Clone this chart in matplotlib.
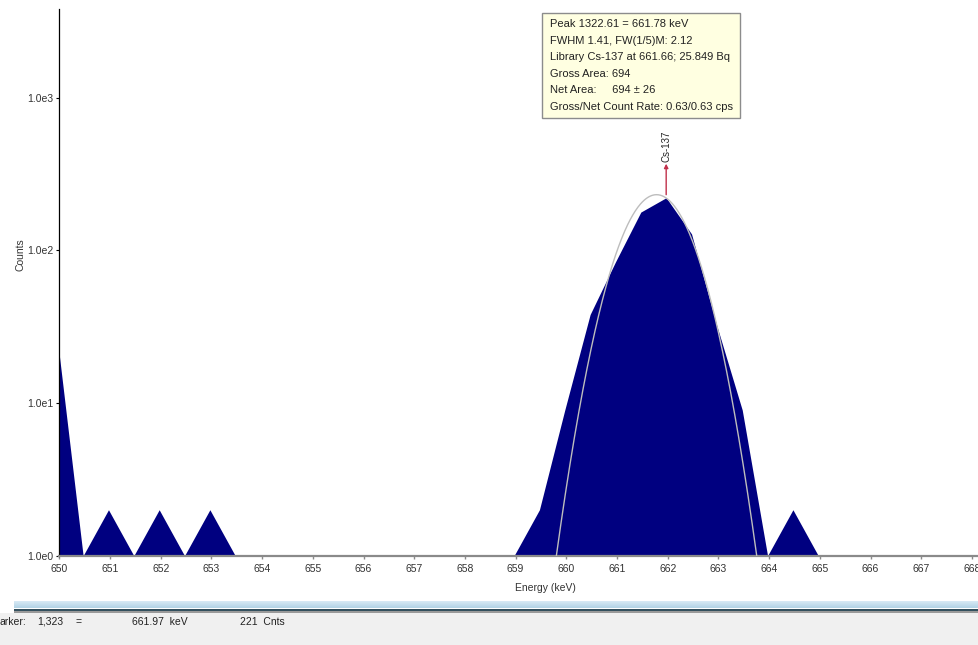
import numpy as np
import matplotlib
matplotlib.use("Agg")
import matplotlib.pyplot as plt
from matplotlib.patches import Rectangle
from matplotlib.ticker import NullLocator
from matplotlib.transforms import offset_copy

plt.rcParams['font.family'] = ['Liberation Sans', 'DejaVu Sans']

# ---------------- data ----------------
energies = [649.97, 650.47, 650.97, 651.47, 651.97, 652.47, 652.97, 653.47,
            653.97, 654.47, 654.97, 655.47, 655.97, 656.47, 656.97, 657.47,
            657.97, 658.47, 658.97, 659.47, 659.97, 660.47, 660.97, 661.47,
            661.97, 662.47, 662.97, 663.47, 663.97, 664.47, 664.97, 665.47,
            665.97, 666.47, 666.97, 667.47, 667.97, 668.47]
counts = [25, 0, 2, 0, 2, 0, 2, 0,
          0, 0, 0, 0, 0, 0, 0, 0,
          0, 0, 0, 2, 9, 38, 84, 178,
          221, 128, 32, 9, 0, 2, 0, 0,
          0, 0, 0, 0, 0, 0]

x_ticks = list(range(650, 669))
y_ticks = [1, 10, 100, 1000]
y_tick_labels = ['1.0e0', '1.0e1', '1.0e2', '1.0e3']

# peak fit parameters (from the info box)
peak_centroid = 661.78
peak_fwhm = 1.41
peak_net_area = 694
kev_per_channel = 0.5003

marker_energy = 661.97
marker_counts = 221
marker_channel = '1,323'
library_label = 'Cs-137'

info_lines = ['Peak 1322.61 = 661.78 keV',
              'FWHM 1.41, FW(1/5)M: 2.12',
              'Library Cs-137 at 661.66; 25.849 Bq',
              'Gross Area: 694',
              'Net Area:     694 \u00b1 26',
              'Gross/Net Count Rate: 0.63/0.63 cps']

# ---------------- figure ----------------
W, H = 979, 645
fig = plt.figure(figsize=(W / 100, H / 100), dpi=100)
fig.patch.set_facecolor('white')

x0_px, base_px, top_px = 59.3, 555.7, 9.0
px_per_kev, px_per_dec = 50.7, 152.7
ax = fig.add_axes([x0_px / W, (H - base_px) / H, (W - x0_px) / W, (base_px - top_px) / H])
ax.set_yscale('log')
ax.set_xlim(650, 650 + (W - x0_px) / px_per_kev)
ax.set_ylim(1, 10 ** ((base_px - top_px) / px_per_dec))

navy = '#000080'
c = np.maximum(np.array(counts, dtype=float), 1.0)
ax.fill_between(energies, c, 1.0, color=navy, linewidth=0, zorder=2)

# fitted gaussian
sigma = peak_fwhm / (2 * np.sqrt(2 * np.log(2)))
amp = peak_net_area * kev_per_channel / (sigma * np.sqrt(2 * np.pi))
half = sigma * np.sqrt(2 * np.log(amp))
xf = np.linspace(peak_centroid - half, peak_centroid + half, 400)
yf = amp * np.exp(-0.5 * ((xf - peak_centroid) / sigma) ** 2)
ax.plot(xf, np.maximum(yf, 1.0), color='#bdbdbd', lw=1.0, zorder=3)

# library marker (arrow pointing up, label above)
t_low = offset_copy(ax.transData, fig=fig, x=0, y=3, units='dots')
t_high = offset_copy(ax.transData, fig=fig, x=0, y=34, units='dots')
ax.annotate('', xy=(marker_energy, marker_counts), xycoords=t_high,
            xytext=(marker_energy, marker_counts), textcoords=t_low,
            arrowprops=dict(arrowstyle='-|>', color='#c0304a', lw=1.0,
                            mutation_scale=6, shrinkA=0, shrinkB=0),
            zorder=4)
ax.annotate(library_label, xy=(marker_energy, marker_counts), xycoords='data',
            xytext=(0, 36), textcoords='offset pixels', rotation=90,
            ha='center', va='bottom', fontsize=7, color='#222222')

# axes styling
for s in ['top', 'right']:
    ax.spines[s].set_visible(False)
ax.spines['bottom'].set_color('#8a8a8a')
ax.spines['bottom'].set_linewidth(1.6)
ax.spines['left'].set_color('black')
ax.spines['left'].set_linewidth(0.9)
ax.set_xticks(x_ticks)
ax.set_xticklabels([str(t) for t in x_ticks])
ax.set_yticks(y_ticks)
ax.set_yticklabels(y_tick_labels)
ax.yaxis.set_minor_locator(NullLocator())
ax.tick_params(axis='x', direction='out', length=2.5, width=1, color='#8a8a8a',
               pad=3.5, labelsize=7.5, labelcolor='#333333')
ax.tick_params(axis='y', direction='out', length=2.5, width=0.8, color='black',
               pad=1.5, labelsize=7.5, labelcolor='#333333')

fig.text(21 / W, 1 - 255 / H, 'Counts', rotation=90, ha='center', va='center',
         fontsize=7.5, color='#333333')
fig.text(545 / W, 1 - 588 / H, 'Energy (keV)', ha='center', va='center',
         fontsize=7.5, color='#333333')

# info box
bx0, by0, bx1, by1 = 541.7, 13.3, 740.0, 118.0
fig.add_artist(Rectangle((bx0 / W, 1 - by1 / H), (bx1 - bx0) / W, (by1 - by0) / H,
                         transform=fig.transFigure, facecolor='#ffffe1',
                         edgecolor='#8c8c8c', linewidth=1.0, zorder=5))
for i, line in enumerate(info_lines):
    fig.text(550.5 / W, 1 - (24.0 + 16.6 * i) / H, line, ha='left', va='center',
             fontsize=8, color='#222222', zorder=6)

# status bar
grad = np.linspace(0, 1, 20).reshape(-1, 1)
bar_ax = fig.add_axes([14 / W, 1 - 608.5 / H, (W - 14) / W, 8 / H])
bar_ax.imshow(grad, aspect='auto', cmap=matplotlib.colors.LinearSegmentedColormap.from_list(
    'b', ['#deedf7', '#b2d3e6']), extent=[0, 1, 0, 1], origin='upper')
bar_ax.set_axis_off()
fig.add_artist(Rectangle((0, 0), 1, 1 - 612.5 / H, transform=fig.transFigure,
                         facecolor='#f0f0f0', edgecolor='none', zorder=1))
fig.add_artist(Rectangle((14 / W, 1 - 610.5 / H), (W - 14) / W, 2 / H,
                         transform=fig.transFigure, facecolor='#33505e',
                         edgecolor='none', zorder=2))
fig.add_artist(Rectangle((14 / W, 1 - 612.5 / H), (W - 14) / W, 1.5 / H,
                         transform=fig.transFigure, facecolor='#9a9a9a',
                         edgecolor='none', zorder=2))

status_y = 1 - 622 / H
fig.text(0 / W, status_y, 'arker:', ha='left', va='center', fontsize=7.5, color='#222222', zorder=3)
fig.text(37 / W, status_y, marker_channel, ha='left', va='center', fontsize=7.5, color='#222222', zorder=3)
fig.text(75 / W, status_y, '=', ha='left', va='center', fontsize=7.5, color='#222222', zorder=3)
fig.text(132 / W, status_y, f'{marker_energy:.2f}  keV', ha='left', va='center', fontsize=7.5, color='#222222', zorder=3)
fig.text(240 / W, status_y, f'{marker_counts}  Cnts', ha='left', va='center', fontsize=7.5, color='#222222', zorder=3)

fig.savefig('out.png', dpi=100)
